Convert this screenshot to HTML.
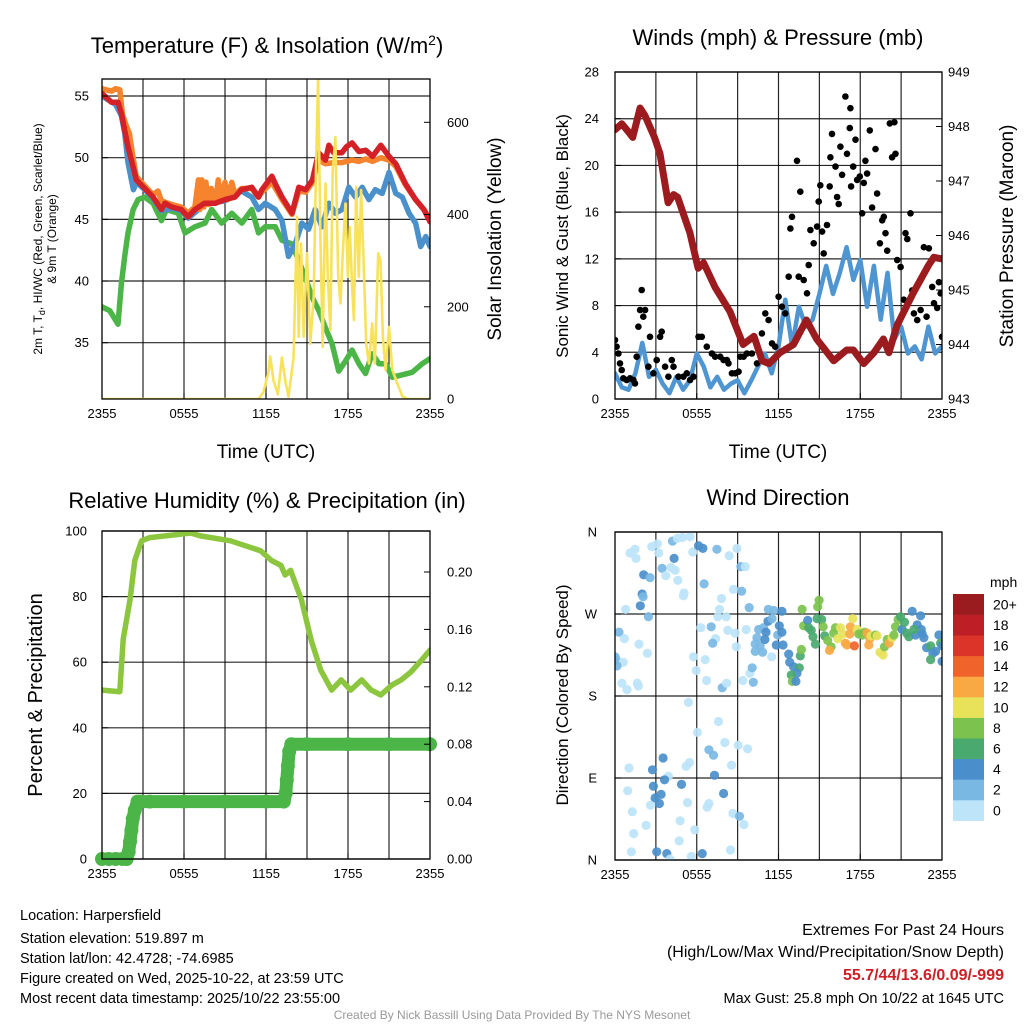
<!DOCTYPE html>
<html><head><meta charset="utf-8"><title>Harpersfield Meteogram</title>
<style>
html,body{margin:0;padding:0;background:#fff;}
svg text{font-family:"Liberation Sans",sans-serif;fill:#000;}
</style></head>
<body>
<svg id="chart" width="1024" height="1024" viewBox="0 0 1024 1024" xmlns="http://www.w3.org/2000/svg">
<rect x="0" y="0" width="1024" height="1024" fill="#fff"/>
<text x="267" y="53" font-size="22" text-anchor="middle">Temperature (F) &amp; Insolation (W/m<tspan dy="-8" font-size="14">2</tspan><tspan dy="8">)</tspan></text>
<text x="778" y="45" font-size="22" text-anchor="middle">Winds (mph) &amp; Pressure (mb)</text>
<text x="267" y="508" font-size="22" text-anchor="middle">Relative Humidity (%) &amp; Precipitation (in)</text>
<text x="778" y="505" font-size="22" text-anchor="middle">Wind Direction</text>

<g transform="translate(42,239) rotate(-90)">
<text x="0" y="0" font-size="12" text-anchor="middle">2m T, T<tspan dy="3" font-size="9">d</tspan><tspan dy="-3">, HI/WC (Red, Green, Scarlet/Blue)</tspan></text>
<text x="0" y="14" font-size="12" text-anchor="middle">&amp; 9m T (Orange)</text>
</g>
<text transform="translate(501,239) rotate(-90)" font-size="19" text-anchor="middle">Solar Insolation (Yellow)</text>
<text transform="translate(568,236) rotate(-90)" font-size="17" text-anchor="middle">Sonic Wind &amp; Gust (Blue, Black)</text>
<text transform="translate(1013,236) rotate(-90)" font-size="19" text-anchor="middle">Station Pressure (Maroon)</text>
<text transform="translate(42,695) rotate(-90)" font-size="20" text-anchor="middle">Percent &amp; Precipitation</text>
<text transform="translate(568,695) rotate(-90)" font-size="17" text-anchor="middle">Direction (Colored By Speed)</text>
<text x="266" y="458" font-size="19" text-anchor="middle">Time (UTC)</text>
<text x="778" y="458" font-size="19" text-anchor="middle">Time (UTC)</text>

<g font-size="14.5">
<text x="20" y="920">Location: Harpersfield</text>
<text x="20" y="943">Station elevation: 519.897 m</text>
<text x="20" y="963">Station lat/lon: 42.4728; -74.6985</text>
<text x="20" y="983">Figure created on Wed, 2025-10-22, at 23:59 UTC</text>
<text x="20" y="1003">Most recent data timestamp: 2025/10/22 23:55:00</text>
</g>
<g text-anchor="end">
<text x="1004" y="935" font-size="16">Extremes For Past 24 Hours</text>
<text x="1004" y="957" font-size="16">(High/Low/Max Wind/Precipitation/Snow Depth)</text>
<text x="1004" y="980" font-size="16" font-weight="bold" style="fill:#cc1f26">55.7/44/13.6/0.09/-999</text>
<text x="1004" y="1003" font-size="14.5">Max Gust: 25.8 mph On 10/22 at 1645 UTC</text>
</g>
<text x="512" y="1019" font-size="12" text-anchor="middle" style="fill:#999">Created By Nick Bassill Using Data Provided By The NYS Mesonet</text>
</svg>
<script>
// ---------- Panel 1 data ----------
const redT=[0,0.69,1.17,1.42,1.66,1.9,2.15,2.52,3.13,3.74,4.35,4.6,5.1,5.8,6.3,6.8,7.5,8.27,9.0,9.73,10.2,10.96,11.45,11.7,12.43,12.67,13.17,13.9,14.4,14.9,15.4,15.85,16.35,16.6,16.95,17.55,17.9,18.3,18.8,19.3,19.8,20.4,21.0,21.5,22.2,22.95,23.55,24];
const redV=[55.2,54.5,54.5,53.6,52.2,50.9,49.8,48.2,47.5,46.8,45.8,46.3,46.0,45.8,45.2,45.8,46.3,46.3,46.6,46.8,47.4,47.6,46.8,47.4,48.5,47.9,46.8,45.5,47.6,47.4,48.2,50.4,49.8,51.0,50.4,50.4,50.9,51.2,50.5,50.6,50.1,51.0,50.1,49.5,47.9,46.6,45.8,44.8];
const orT=[0,0.3,0.7,1.0,1.3,1.5,1.8,2.0,2.2,2.5,3.13,3.74,4.1,4.35,5.1,5.8,6.3,6.8,7.05,7.15,7.3,7.45,7.6,7.8,8.0,8.3,8.5,8.7,9.0,9.2,9.5,9.73,10.2,10.96,11.45,11.7,12.43,13.17,13.9,14.4,14.9,15.4,15.85,16.35,16.95,17.55,18.3,18.8,19.3,19.8,20.4,21.0,21.5,22.2,22.95,23.55,24];
const orV=[55.6,55.5,55.4,55.6,55.5,53.5,52.5,52.0,50.5,48.5,47.7,47.0,47.3,46.5,46.2,46.0,45.5,46.0,48.2,45.8,48.2,46.0,48.0,46.2,47.5,46.3,48.2,46.5,48.0,46.6,48.0,47.0,47.5,47.5,46.8,47.2,48.0,46.6,45.4,47.3,47.2,48.0,49.8,49.5,49.6,49.6,49.8,49.7,49.9,49.7,50.0,49.8,49.3,47.8,46.6,45.8,45.0];
const blT=[0,1.0,1.42,1.66,1.9,2.1,2.3,2.52,3.13,3.74,4.35,5.1,5.8,6.3,7.5,9.0,10.2,10.96,11.45,11.94,12.67,13.17,13.65,14.14,14.63,15.12,15.6,16.1,16.6,17.08,17.57,18.06,18.55,19.04,19.53,20.0,20.5,21.0,21.5,21.97,22.46,22.95,23.32,23.69,24];
const blV=[55.0,54.3,53.4,52.0,49.6,48.5,47.4,48.0,47.4,46.7,45.7,45.9,45.7,45.1,46.2,46.5,47.3,46.8,45.8,46.3,45.8,44.9,42.0,43.0,44.7,44.2,45.8,44.4,46.3,45.5,45.8,47.6,46.8,47.6,46.6,47.4,47.1,48.8,47.1,46.8,45.5,44.7,42.8,43.6,42.8];
const gnT=[0,0.56,1.17,1.42,1.66,1.9,2.28,2.64,3.13,3.74,4.35,4.72,5.58,6.07,6.8,7.54,8.03,8.76,9.5,10.23,10.96,11.45,11.94,12.67,13.17,13.9,14.38,14.87,15.37,15.86,16.35,16.84,17.32,17.81,18.3,18.8,19.28,19.77,20.26,20.75,21.24,21.97,22.7,23.44,24];
const gnV=[37.9,37.6,36.5,39.8,42.0,43.9,45.8,46.6,46.8,46.3,44.9,45.8,45.5,43.9,44.4,44.7,45.8,44.7,45.5,44.7,45.8,43.9,44.4,44.4,43.3,43.0,41.7,40.3,38.7,37.6,36.2,34.9,32.7,33.5,34.4,33.3,32.5,34.1,33.3,33.3,32.2,32.4,32.6,33.3,33.7];
const solT=[0,11.45,11.82,12.19,12.31,12.55,12.87,13.16,13.41,13.65,14.02,14.27,14.39,14.56,14.76,15.0,15.24,15.49,15.66,15.81,15.98,16.15,16.35,16.52,16.71,16.88,17.08,17.28,17.45,17.62,17.81,17.99,18.13,18.3,18.43,18.6,18.79,18.96,19.16,19.33,19.53,19.77,19.97,20.21,20.38,20.55,20.75,21.0,21.24,21.61,21.97,22.34,24];
const solV=[0,0,15,60,92,40,10,90,40,5,90,395,135,337,135,316,120,222,496,700,351,113,467,265,149,496,568,265,207,316,424,265,373,244,171,460,265,453,280,120,77,164,77,316,300,135,63,156,63,34,6,0,0];
const tempTicks=[35,40,45,50,55];
const solTicks=[0,200,400,600];
const timeTicks=[0,6,12,18,24];
const timeLabels=["2355","0555","1155","1755","2355"];

// ---------- Panel 2 data ----------
const windV=[2.2,1.0,0.8,2.2,4.8,1.9,2.5,1.3,0.5,1.9,0.8,1.6,3.9,2.8,1.0,1.9,0.8,1.3,1.6,0.5,1.6,2.8,3.9,2.2,4.5,8.5,4.5,7.9,6.2,6.8,9.0,11.4,9.0,10.8,13.0,10.2,11.9,7.9,11.4,6.8,10.8,5.1,6.2,3.9,4.5,3.4,6.2,3.9,4.5];
const gustT=[0,0.12,0.25,0.37,0.49,0.61,0.86,1.1,1.35,1.47,1.59,1.72,1.84,1.96,2.08,2.21,2.45,2.57,2.82,3.06,3.31,3.43,3.68,3.92,4.17,4.29,4.66,5.02,5.27,5.51,5.76,6.13,6.37,6.74,7.11,7.35,7.72,7.97,8.21,8.33,8.58,8.82,9.07,9.19,9.44,9.68,10.05,10.42,10.78,11.03,11.27,11.52,11.76,12.01,12.25,12.5,12.75,12.87,12.99,13.36,13.6,13.48,13.85,14.09,14.22,14.34,14.58,14.83,14.95,15.07,15.2,15.32,15.56,15.76,15.81,15.93,16.18,16.3,16.42,16.54,16.67,16.91,17.03,17.23,17.28,17.33,17.48,17.65,17.77,17.97,18.14,18.26,18.38,18.5,18.7,18.87,19.12,19.24,19.44,19.61,19.73,19.85,19.98,20.17,20.34,20.51,20.59,20.71,20.96,21.2,21.32,21.45,21.69,21.81,21.94,22.18,22.43,22.67,22.87,23.04,23.28,23.41,23.65,23.77,23.9,24];
const gustV=[5.05,4.48,3.9,3.05,2.48,1.77,1.63,1.77,1.63,1.34,3.62,6.19,7.62,9.33,7.05,7.62,2.77,5.33,2.2,3.33,5.33,5.76,2.77,1.91,3.33,2.77,1.91,1.91,2.2,1.63,1.91,5.33,5.33,4.48,3.9,3.62,3.62,3.33,3.33,3.05,2.2,2.2,2.34,3.62,3.62,3.9,3.9,3.05,5.62,7.33,6.76,4.76,4.48,8.76,7.9,7.33,10.47,14.6,15.6,20.4,17.75,10.47,10.19,9.05,11.47,14.47,13.33,14.76,16.9,18.3,14.33,12.47,14.9,18.2,20.7,22.7,19.9,17.3,16.7,21.6,19.2,25.9,21.0,23.2,24.9,18.2,19.9,22.2,18.76,19.05,15.9,18.5,20.4,19.3,23.0,16.4,21.4,17.6,13.33,15.3,15.6,14.2,12.7,23.6,20.7,23.7,21.0,11.9,11.3,8.5,14.2,13.7,15.9,9.3,7.33,6.76,7.62,13.0,7.05,12.9,9.6,8.2,7.8,10.0,9.05,5.33];
const presT=[0,0.5,1.0,1.3,1.84,2.2,2.9,3.3,3.9,4.3,4.6,5.5,6.1,6.5,7.35,8.45,9.4,10.2,10.8,11.3,12.1,13.1,14.05,14.8,16.05,17.0,17.5,18.25,19.0,19.7,20.1,20.7,21.9,23.0,23.4,24];
const presV=[947.94,948.05,947.9,947.8,948.34,948.2,947.8,947.5,946.6,946.75,946.7,946.05,945.4,945.5,945.05,944.6,944.0,944.15,943.7,943.65,943.85,944.0,944.45,944.1,943.7,943.9,943.9,943.65,943.85,944.1,943.85,944.35,944.95,945.45,945.6,945.57];
const windTicks=[0,4,8,12,16,20,24,28];
const presTicks=[943,944,945,946,947,948,949];

// ---------- Panel 3 data ----------
const rhT=[0,1.3,1.55,2.05,2.4,2.9,3.5,6.5,7.2,9.4,10.5,11.6,12.4,13.1,13.4,13.8,14.6,15.3,16.0,16.8,17.5,18.2,19.0,19.7,20.4,21.2,21.9,22.6,23.4,24];
const rhV=[51.5,51,67,79,91,97,98,99.4,98.5,97,95.5,94,91,89.5,86.6,88,79,66.8,57.6,51.5,54.6,51.5,54.6,51.5,50,53,54.6,57,60.7,63.7];
const prT=[0,0.5,1.0,1.5,1.8,1.95,2.05,2.15,2.25,2.4,2.6,2.8,3.5,6,9,12,13.3,13.45,13.52,13.6,13.7,13.85,15,18,21,24];
const prV=[0,0,0,0,0,0.005,0.012,0.02,0.028,0.034,0.04,0.04,0.04,0.04,0.04,0.04,0.04,0.046,0.055,0.065,0.075,0.08,0.08,0.08,0.08,0.08];
const rhTicks=[0,20,40,60,80,100];
const prTicks=[0,0.04,0.08,0.12,0.16,0.20];

// ---------- Panel 4 data (three time groups) ----------
const dirEarlyT=[1.1,1.47,1.54,2.7,3.11,3.21,4.22,4.58,4.95,5.51,
5.71,6.13,6.45,7.48,8.38,8.95,3.46,4.12,4.41,3.73,
2.11,2.57,4.61,4.34,6.54,5.07,5.02,1.99,2.06,1.86,
2.45,0.78,8.7,9.29,7.82,7.67,7.55,8.16,9.24,9.56,
9.85,0.29,0.69,1.76,2.38,0,0.07,0.61,0.15,0.51,
0.88,1.64,1.72,5.76,5.96,6.62,6.3,7.06,7.38,7.16,
8.28,8.82,9.63,8.9,6.72,7.87,8.19,9.39,10.15,9.9,
10.07];
const dirEarlyV=[337,341,331,344,347,337,350,353,354,355,
338,345,342,341,334,342,320,321,318,312,
313,310,307,331,303,293,290,292,289,279,
267,275,297,295,287,275,267,267,322,322,
277,250,243,237,227,223,220,217,213,194,
187,194,191,223,208,220,255,256,243,238,
252,249,253,234,197,189,194,197,195,205,
211];
const dirEarlyS=[0,0,0,0,0,0,2,0,0,0,
0,4,4,2,0,0,2,0,0,0,
4,2,0,4,2,0,0,4,2,4,
2,0,0,2,0,0,0,0,2,0,
2,2,0,0,0,2,2,0,2,0,
0,0,0,0,0,0,0,2,0,2,
0,0,0,0,0,2,0,0,2,0,
2];
const dirMidT=[10.54,10.91,11.08,10.42,10.29,10.66,10.29,10.83,11.0,11.23,
11.52,11.25,11.64,12.25,12.06,11.94,12.25,11.84,12.33,11.5,
12.75,12.82,13.11,13.53,13.36,12.94,13.01,13.28,13.6,13.68,
13.73,13.85,14.14,14.22,14.41,14.53,14.71,14.98,14.88,14.83,
15.17,15.27,15.39,15.61,15.86,15.74,16.05,16.18,16.35,16.54,
16.74,16.91,17.03,17.23,17.28,17.45,17.57,17.77,17.89,18.16,
18.33,18.5,18.7,18.63,18.8,19.12,19.24,19.44,19.68,19.78,
19.98,20.12,20.34,20.47,20.59,20.78,20.96,21.08,21.25,21.4,
21.57,21.81,22.06,22.18,22.43,22.55,22.67,22.87,23.16,23.33,
23.53,23.16,23.77,23.9,24,24,22.48,21.94];
const dirMidV=[253,255,250,244,237,235,229,228,242,262,
265,275,274,273,257,247,250,236,236,223,
226,217,212,211,205,203,196,196,224,231,
275,257,263,255,252,245,237,285,278,265,
264,256,246,241,234,230,249,255,243,255,
248,238,236,248,256,265,235,253,248,247,
250,249,243,236,246,247,246,228,225,234,
242,238,244,247,256,264,267,253,261,249,
245,273,247,258,268,248,244,233,235,227,
229,220,247,238,235,218,253,253];
const dirMidS=[2,2,4,2,2,2,2,2,4,4,
2,2,2,4,4,2,4,4,4,0,
4,4,4,6,4,6,8,4,6,8,
8,8,4,6,6,6,6,8,8,6,
6,8,6,8,8,12,8,8,10,10,
10,12,12,12,12,10,14,10,8,8,
8,12,12,12,10,8,10,10,10,8,
8,12,10,8,8,8,6,4,6,6,
6,4,4,4,4,4,4,4,6,4,
4,6,4,6,4,4,4,6];
const dirLateT=[5.39,7.6,6.05,8.06,6.89,7.23,9.04,9.73,3.53,5.47,
5.22,8.55,1.03,2.75,7.3,3.92,3.63,4.88,2.82,0.93,
2.94,3.38,3.26,2.6,5.32,6.89,6.76,7.97,1.27,8.65,
9.14,9.46,2.28,4.78,5.86,1.37,4.71,1.2,3.06,3.8,
4.04,5.61,6.4,8.48];
const dirLateV=[173,152,140,129,121,115,126,122,112,107,
103,104,101,99,93,92,88,83,81,76,
68,72,62,60,63,62,58,73,53,51,
48,39,38,43,33,29,21,9,9,7,
1,4,7,11];
const dirLateS=[0,0,0,0,2,2,0,0,4,0,
0,0,0,4,4,0,4,4,4,0,
4,4,4,0,0,0,0,4,0,0,
2,0,0,0,0,0,0,0,4,4,
0,0,4,0];
const dirTicks=[0,90,180,270,360];
const dirLabels=["N","E","S","W","N"];
const speedBins=[0,2,4,6,8,10,12,14,16,18,20];
const speedLabels=["0","2","4","6","8","10","12","14","16","18","20+"];
const speedColors=["#bde4f8","#7ab8e4","#4a8fcb","#4aa96f","#7cc24e","#e8e25a","#f8a944","#f0642b","#dc3428","#be1e26","#9b1c1f"];

// ---------- rendering ----------
const NS="http://www.w3.org/2000/svg";
const svg=document.getElementById('chart');
function mk(tag,attrs,parent){const e=document.createElementNS(NS,tag);for(const k in attrs)e.setAttribute(k,attrs[k]);(parent||svg).appendChild(e);return e;}
function lin(d0,d1,r0,r1){return v=>r0+(v-d0)/(d1-d0)*(r1-r0);}
function pts(xs,ys,fx,fy){return xs.map((t,i)=>fx(t).toFixed(1)+","+fy(ys[i]).toFixed(1)).join(" ");}

const defs=mk('defs',{});
function panel(id,x0,x1,y0,y1){
  const cp=mk('clipPath',{id:id},defs);
  mk('rect',{x:x0,y:y0,width:x1-x0,height:y1-y0},cp);
}
function grid(name,x0,x1,y0,y1,hys){
  const g=mk('g',{stroke:'#000','stroke-width':1.2,'stroke-opacity':0.85});
  
  
  for(let h=3;h<24;h+=3){const x=x0+(x1-x0)*h/24;mk('line',{x1:x,x2:x,y1:y0,y2:y1},g);}
  hys.forEach(y=>mk('line',{x1:x0,x2:x1,y1:y,y2:y},g));
}
function frame(name,x0,x1,y0,y1){
  const r=mk('rect',{x:x0,y:y0,width:x1-x0,height:y1-y0,fill:'none',stroke:'#000','stroke-width':1.3});
  
  
}
function xTicks(name,x0,x1,y1){
  const g=mk('g',{'font-size':13,'text-anchor':'middle'});
  
  
  const fx=lin(0,24,x0,x1);
  timeTicks.forEach((t,i)=>{mk('line',{x1:fx(t),x2:fx(t),y1:y1,y2:y1-6,stroke:'#000'},g);const tx=mk('text',{x:fx(t),y:y1+19},g);tx.textContent=timeLabels[i];});
}
function yTicks(name,vals,labels,fy,x,anchor,tickX,dir){
  const g=mk('g',{'font-size':13,'text-anchor':anchor});
  
  
  vals.forEach((v,i)=>{const y=fy(v);mk('line',{x1:tickX,x2:tickX+dir*6,y1:y,y2:y,stroke:'#000'},g);const tx=mk('text',{x:x,y:y+4.5},g);tx.textContent=labels[i];});
}
function line(name,xs,ys,fx,fy,color,w,clip){
  const p=mk('polyline',{points:pts(xs,ys,fx,fy),fill:'none',stroke:color,'stroke-width':w,'stroke-linejoin':'round','stroke-linecap':'round','clip-path':'url(#'+clip+')'});
  
  
}

// Panel 1
(function(){
  const x0=102,x1=430,y0=79,y1=399;
  panel('c1',x0,x1,y0,y1);
  const fx=lin(0,24,x0,x1), fy=lin(55,35,96,342.7), fs=lin(0,600,399,122.3);
  grid('temperature-grid',x0,x1,y0,y1,tempTicks.map(fy));
  line('dewpoint-line',gnT,gnV,fx,fy,'#4bb548',5.5,'c1');
  line('heat-index-windchill-line',blT,blV,fx,fy,'#4a91cc',5.5,'c1');
  line('temp-9m-line',orT,orV,fx,fy,'#f6842e',5.5,'c1');
  line('temp-2m-line',redT,redV,fx,fy,'#d42027',5.5,'c1');
  line('solar-insolation-line',solT,solV,fx,fs,'#f9e25b',2.6,'c1');
  frame('temperature-plot-frame',x0,x1,y0,y1);
  xTicks('temperature-x-ticks',x0,x1,y1);
  yTicks('temperature-y-ticks',tempTicks,tempTicks.map(String),fy,89,'end',x0,1);
  yTicks('insolation-y-ticks',solTicks,solTicks.map(String),fs,447,'start',x1,-1);
})();

// Panel 2
(function(){
  const x0=615,x1=942,y0=72,y1=399;
  panel('c2',x0,x1,y0,y1);
  const fx=lin(0,24,x0,x1), fy=lin(0,28,y1,y0), fp=lin(943,949,y1,y0);
  grid('winds-grid',x0,x1,y0,y1,windTicks.map(fy));
  const wT=windV.map((v,i)=>i*0.5);
  line('sonic-wind-line',wT,windV,fx,fy,'#4e95d1',4.5,'c2');
  const g=mk('g',{fill:'#000','clip-path':'url(#c2)'});
  
  
  gustT.forEach((t,i)=>{
    const c=mk('circle',{cx:fx(t).toFixed(1),cy:fy(gustV[i]).toFixed(1),r:3.3},g);
    
    
  });
  line('station-pressure-line',presT,presV,fx,fp,'#9b1b1e',7,'c2');
  frame('winds-plot-frame',x0,x1,y0,y1);
  xTicks('winds-x-ticks',x0,x1,y1);
  yTicks('wind-y-ticks',windTicks,windTicks.map(String),fy,599,'end',x0,1);
  yTicks('pressure-y-ticks',presTicks,presTicks.map(String),fp,948,'start',x1,-1);
})();

// Panel 3
(function(){
  const x0=102,x1=430,y0=531,y1=859;
  panel('c3',x0,x1,y0,y1);
  const fx=lin(0,24,x0,x1), fy=lin(0,100,y1,y0), fp=lin(0,0.20,859,572);
  grid('humidity-grid',x0,x1,y0,y1,rhTicks.map(fy));
  line('relative-humidity-line',rhT,rhV,fx,fy,'#8cc63f',5.5,'c3');
  line('precipitation-line',prT,prV,fx,fp,'#4bb548',13,'c3');
  const g=mk('g',{fill:'#4bb548'});
  
  
  prT.forEach((t,i)=>{
    const c=mk('circle',{cx:fx(t).toFixed(1),cy:fp(prV[i]).toFixed(1),r:7},g);
    
    
  });
  frame('humidity-plot-frame',x0,x1,y0,y1);
  xTicks('humidity-x-ticks',x0,x1,y1);
  yTicks('humidity-y-ticks',rhTicks,rhTicks.map(String),fy,87,'end',x0,1);
  yTicks('precipitation-y-ticks',prTicks,prTicks.map(v=>v.toFixed(2)),fp,447,'start',x1,-1);
})();

// Panel 4
(function(){
  const x0=615,x1=942,y0=532,y1=860;
  panel('c4',x0,x1,y0,y1);
  const fx=lin(0,24,x0,x1), fy=lin(0,360,y1,y0);
  grid('direction-grid',x0,x1,y0,y1,dirTicks.map(fy));
  const g=mk('g',{'clip-path':'url(#c4)'});
  
  
  function col(s){return speedColors[Math.min(10,Math.max(0,Math.round((s||0)/2)))];}
  const groups=[[dirEarlyT,dirEarlyV,dirEarlyS],[dirMidT,dirMidV,dirMidS],[dirLateT,dirLateV,dirLateS]];
  groups.forEach(([T,V,S])=>{
    T.forEach((t,i)=>{
      const c=mk('circle',{cx:fx(t).toFixed(1),cy:fy(V[i]).toFixed(1),r:4.6,fill:col(S[i]),'fill-opacity':0.92},g);
      
      
    });
  });
  frame('direction-plot-frame',x0,x1,y0,y1);
  xTicks('direction-x-ticks',x0,x1,y1);
  yTicks('direction-y-ticks',dirTicks,dirLabels,fy,597,'end',x0,1);
  const cb=mk('g',{'font-size':14});
  
  
  const top=594,h=20.6;
  const u=mk('text',{x:990,y:587,'font-size':14},cb);u.textContent='mph';
  speedBins.forEach((b,i)=>{
    const k=speedBins.length-1-i;
    const y=top+k*h;
    const r=mk('rect',{x:953,y:y,width:31,height:h+0.3,fill:speedColors[i]},cb);
    
    
    const tx=mk('text',{x:993,y:y+h/2+5},cb);tx.textContent=speedLabels[i];
  });
})();
</script>
</body></html>
